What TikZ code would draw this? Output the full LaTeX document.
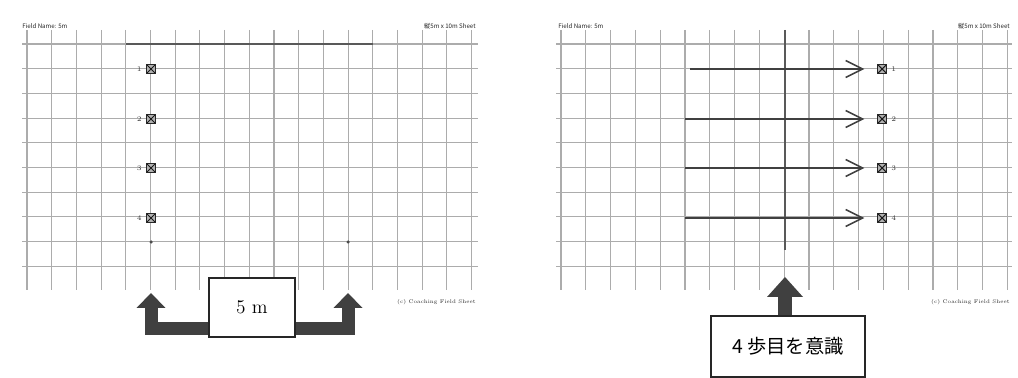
\documentclass[tikz,border=0pt]{standalone}
\usepackage{fontspec}
\newfontfamily\cjk{Noto Sans CJK JP}
\usepackage{tikz}
\usetikzlibrary{arrows.meta, positioning}

\begin{document}
\begin{tikzpicture}[x=0.02cm, y=-0.02cm,
  grid_line/.style={gray!65, line width=0.6pt},
  field_line/.style={black!65, line width=1.1pt},
  cone/.style={rectangle, draw=black!85, fill=gray!60, minimum size=0.17cm, inner sep=0pt,
    path picture={\draw[black!90, line width=0.6pt] (path picture bounding box.north west) -- (path picture bounding box.south east)
      (path picture bounding box.north east) -- (path picture bounding box.south west);}},
  num_label/.style={font=\fontsize{4}{4}\selectfont, text=black!80, inner sep=0.5pt},
  head_text/.style={font=\cjk\fontsize{3.5}{4}\selectfont, text=black!85, inner sep=0pt},
  info_box/.style={draw=black!85, line width=0.9pt, fill=white, inner sep=0pt},
  fat_arrow/.style={black!75, line width=0.26cm, -{Triangle[width=0.58cm, length=0.3cm, line width=0pt]}},
  up_arrow/.style={black!75, line width=0.28cm, -{Triangle[width=0.72cm, length=0.4cm, line width=0pt]}},
  step_arrow/.style={black!75, line width=0.9pt, -{Straight Barb[length=0.34cm, width=0.34cm]}},
]
  \useasboundingbox (0,0) rectangle (1018,378);

  % left sheet
  \foreach \i in {0,...,18} { \draw[grid_line] ({27+24.7*\i}, 30) -- ({27+24.7*\i}, 290); }
  \foreach \j in {0,...,9} { \draw[grid_line] (22, {44+24.7*\j}) -- (478, {44+24.7*\j}); }
  \draw[field_line] (126,44) -- (373,44);
  \fill[black!70] (151,242) circle (0.035cm) (348,242) circle (0.035cm);
  \node[head_text, anchor=west] (l_head) at (22,26) {Field Name: 5m};
  \node[head_text, anchor=east] (l_scale) at (476,26) {縦5m x 10m Sheet};
  \node[head_text, anchor=east, font=\fontsize{3}{4}\selectfont] (l_foot) at (476,302) {(c) Coaching Field Sheet};
  \foreach \n/\y in {1/69, 2/119, 3/168, 4/218} {
    \node[cone] (l\n) at (151,\y) {};
    \node[num_label, left=2pt of l\n] (ln\n) {\n};
  }

  % 5 m box with the two turn arrows
  \node[info_box, minimum width=1.72cm, minimum height=1.18cm, font=\fontsize{11}{13}\selectfont] (dist_box) at (252,307.5) {5 m};
  \coordinate (l_tip) at (151,293);
  \coordinate (l_bend) at (151,328.5);
  \coordinate (r_tip) at (348,293);
  \coordinate (r_bend) at (348,328.5);
  \draw[fat_arrow] (dist_box.west |- l_bend) -- (l_bend) -- (l_tip);
  \draw[fat_arrow] (dist_box.east |- r_bend) -- (r_bend) -- (r_tip);
  \node[info_box, minimum width=1.72cm, minimum height=1.18cm, font=\fontsize{11}{13}\selectfont] at (dist_box) {5 m};

  % right sheet
  \foreach \i in {0,...,18} { \draw[grid_line] ({561+24.8*\i}, 30) -- ({561+24.8*\i}, 290); }
  \foreach \j in {0,...,9} { \draw[grid_line] (556, {44+24.7*\j}) -- (1012, {44+24.7*\j}); }
  \draw[field_line] (785,30) -- (785,250);
  \node[head_text, anchor=west] (r_head) at (558,26) {Field Name: 5m};
  \node[head_text, anchor=east] (r_scale) at (1010,26) {縦5m x 10m Sheet};
  \node[head_text, anchor=east, font=\fontsize{3}{4}\selectfont] (r_foot) at (1010,302) {(c) Coaching Field Sheet};
  \foreach \n/\x/\y in {1/690/69, 2/685/119, 3/685/168, 4/685/218} {
    \node[cone] (r\n) at (882,\y) {};
    \node[num_label, right=2pt of r\n] (rn\n) {\n};
    \coordinate (s\n) at (\x,\y);
    \draw[step_arrow, shorten >=0.26cm] (s\n) -- (r\n.west);
  }

  % 4th step box
  \node[info_box, minimum width=3.08cm, minimum height=1.22cm, font=\cjk\fontsize{11}{13}\selectfont] (focus_box) at (788,346.5) {4 歩目を意識};
  \coordinate (focus_tip) at (785,277);
  \draw[up_arrow] (focus_box.north -| focus_tip) -- (focus_tip);
\end{tikzpicture}
\end{document}
